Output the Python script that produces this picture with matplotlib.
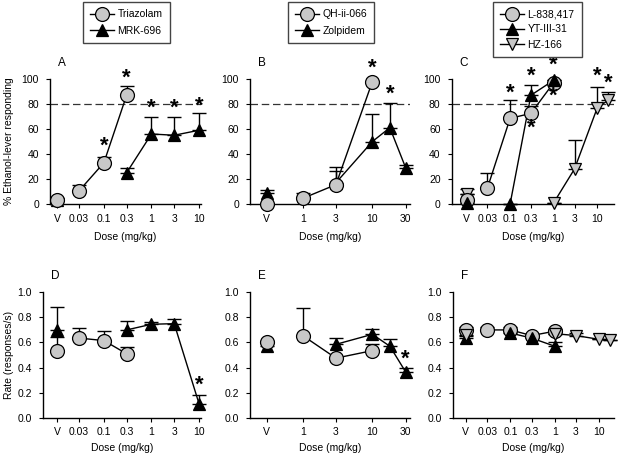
"""Ethanol-lever responding and response rate, panels A-F."""
import matplotlib
matplotlib.use('Agg')
import matplotlib.pyplot as plt
from matplotlib.lines import Line2D
import numpy as np

plt.rcParams.update({
    'font.family': ['Liberation Sans', 'DejaVu Sans'],
    'font.size': 7.5,
    'axes.linewidth': 1.0,
    'xtick.major.size': 3,
    'ytick.major.size': 3,
})

GRAY = '#c8c8c8'

# ---------------------------------------------------------------------------
# data  (dose 'V' = vehicle; err = upper SEM only)
# ---------------------------------------------------------------------------
# panel A / D
tri_dose = ['V', 0.03, 0.1, 0.3]
tri_pct = [3, 10.5, 33, 87]
tri_pct_err = [2, 5, 5, 7.5]
tri_rate = [0.53, 0.635, 0.615, 0.51]
tri_rate_err = [0.11, 0.08, 0.08, 0.055]

mrk_dose = ['V', 0.3, 1, 3, 10]
mrk_pct = [3, 25, 56, 55, 59]
mrk_pct_err = [2, 3.5, 14, 14.5, 14]
mrk_rate = [0.70, 0.70, 0.745, 0.75, 0.11]
mrk_rate_err = [0.18, 0.07, 0.015, 0.04, 0.07]

# panel B / E
qh_dose = ['V', 1, 3, 10]
qh_pct = [0, 4.5, 15.5, 98]
qh_pct_err = [0, 4, 11, 0]
qh_rate = [0.60, 0.655, 0.475, 0.535]
qh_rate_err = [0.01, 0.22, 0.0, 0.05]

zol_dose = ['V', 3, 10, 17.8, 30]
zol_pct = [8.5, 17, 50, 61, 29]
zol_pct_err = [3, 13, 22, 20, 2]
zol_rate = [0.57, 0.585, 0.665, 0.57, 0.365]
zol_rate_err = [0.03, 0.05, 0.04, 0.06, 0.03]

# panel C / F
l8_dose = ['V', 0.03, 0.1, 0.3, 1]
l8_pct = [3, 12.5, 68.5, 72.5, 97]
l8_pct_err = [5, 12, 15, 6, 0]
l8_rate = [0.70, 0.70, 0.70, 0.655, 0.69]
l8_rate_err = [0.025, 0.02, 0.02, 0.01, 0.015]

yt_dose = ['V', 0.1, 0.3, 1]
yt_pct = [1, 0, 87, 99]
yt_pct_err = [2, 0, 8, 0]
yt_rate = [0.635, 0.675, 0.635, 0.57]
yt_rate_err = [0.02, 0.02, 0.01, 0.035]

hz_dose = ['V', 1, 3, 10, 17.8]
hz_pct = [8, 1, 28, 77, 83]
hz_pct_err = [4, 0, 23, 17, 7]
hz_rate = [0.66, 0.67, 0.655, 0.625, 0.62]
hz_rate_err = [0.04, 0.0, 0.02, 0.0, 0.0]

# asterisks: (dose, y)
stars_A = [(0.1, 46), (0.3, 100.5), (1, 76.5), (3, 76.5), (10, 78.5)]
stars_B = [(10, 108.5), (17.8, 88)]
stars_C = [(0.1, 89), (0.3, 61), (1, 86.5), (0.3, 102.5), (1, 111),
           (10, 102), (17.8, 97)]
stars_D = [(10, 0.26)]
stars_E = [(30, 0.465)]

ticks_A = ['V', 0.03, 0.1, 0.3, 1, 3, 10]
ticks_B = ['V', 1, 3, 10, 30]
ticks_C = ['V', 0.03, 0.1, 0.3, 1, 3, 10]

W, H = 620, 459


def xpos(doses, vpos):
    return np.array([vpos if d == 'V' else np.log10(d) for d in doses])


def draw_series(ax, doses, vals, errs, vpos, marker, face, ms=9):
    x = xpos(doses, vpos)
    y = np.array(vals, float)
    e = np.array(errs, float)
    ax.errorbar(x, y, yerr=[np.zeros_like(e), e], fmt='none', ecolor='k',
                elinewidth=1.0, capsize=5, capthick=1.0, zorder=2, clip_on=False)
    # vehicle point is not joined to the dose-response line
    ax.plot(x[1:], y[1:], '-', color='k', lw=1.0, zorder=3, clip_on=False)
    ax.plot(x, y, ls='none', marker=marker, ms=ms, mfc=face, mec='k', mew=0.9,
            zorder=4, clip_on=False)


def setup(ax, px, ticks, vpos, top, label):
    left, right, x0px, x0val, ppd = px
    ax.set_xlim(x0val - (x0px - left) / ppd, x0val + (right - x0px) / ppd)
    ax.set_xticks(xpos(ticks, vpos))
    ax.set_xticklabels([str(t) for t in ticks])
    ax.spines['top'].set_visible(False)
    ax.spines['right'].set_visible(False)
    if top:
        ax.set_ylim(0, 100)
        ax.set_yticks([0, 20, 40, 60, 80, 100])
        ax.axhline(80, color='#333333', ls=(0, (6, 3)), lw=0.9, zorder=1)
        ax.set_xlabel('Dose (mg/kg)', labelpad=6)
    else:
        ax.set_ylim(0, 1.0)
        ax.set_yticks([0, 0.2, 0.4, 0.6, 0.8, 1.0])
        ax.set_yticklabels(['0.0', '0.2', '0.4', '0.6', '0.8', '1.0'])
        ax.set_xlabel('Dose (mg/kg)', labelpad=4)
    ax.tick_params(axis='x', direction='out', pad=4)
    ax.tick_params(axis='y', direction='out', pad=5)
    ax.text(0.05, 1.08, label, transform=ax.transAxes, fontsize=8.5,
            ha='left', va='bottom')


def stars(ax, pts, vpos):
    for d, y in pts:
        ax.text(xpos([d], vpos)[0], y, '*', ha='center', va='center',
                fontsize=16, fontweight='bold', zorder=5)


fig = plt.figure(figsize=(W / 100, H / 100), dpi=100)


def add_axes(left, right, top_px, bot_px):
    return fig.add_axes([left / W, 1 - bot_px / H, (right - left) / W,
                         (bot_px - top_px) / H])


# (left spine px, right end px, ref tick px, ref tick log value, px/decade)
pxA = (50, 201, 79, np.log10(0.03), 47.6)
pxD = (43.3, 201, 79, np.log10(0.03), 47.6)
pxB = (250, 410, 302.7, 0.0, 69.7)
pxC = (451.7, 614, 487.3, np.log10(0.03), 43.6)
pxF = (453.3, 614, 487.3, np.log10(0.03), 44.3)
vA, vB, vC, vF = -1.986, -0.516, -1.995, -2.01

axA = add_axes(pxA[0], pxA[1], 79, 204)
axB = add_axes(pxB[0], pxB[1], 79, 204)
axC = add_axes(pxC[0], pxC[1], 79, 204)
axD = add_axes(pxD[0], pxD[1], 292.3, 417.7)
axE = add_axes(pxB[0], pxB[1], 292.3, 417.7)
axF = add_axes(pxF[0], pxF[1], 292.3, 417.7)

# ---------------------------------------------------------------------------
# top row: % ethanol-lever responding
# ---------------------------------------------------------------------------
setup(axA, pxA, ticks_A, vA, True, 'A')
draw_series(axA, mrk_dose, mrk_pct, mrk_pct_err, vA, '^', 'k')
draw_series(axA, tri_dose, tri_pct, tri_pct_err, vA, 'o', GRAY, ms=10)
stars(axA, stars_A, vA)

setup(axB, pxB, ticks_B, vB, True, 'B')
draw_series(axB, zol_dose, zol_pct, zol_pct_err, vB, '^', 'k')
draw_series(axB, qh_dose, qh_pct, qh_pct_err, vB, 'o', GRAY, ms=10)
stars(axB, stars_B, vB)

setup(axC, pxC, ticks_C, vC, True, 'C')
draw_series(axC, hz_dose, hz_pct, hz_pct_err, vC, 'v', GRAY)
draw_series(axC, l8_dose, l8_pct, l8_pct_err, vC, 'o', GRAY, ms=10)
draw_series(axC, yt_dose, yt_pct, yt_pct_err, vC, '^', 'k')
stars(axC, stars_C, vC)

# ---------------------------------------------------------------------------
# bottom row: response rate
# ---------------------------------------------------------------------------
setup(axD, pxD, ticks_A, vA, False, 'D')
draw_series(axD, mrk_dose, mrk_rate, mrk_rate_err, vA, '^', 'k')
draw_series(axD, tri_dose, tri_rate, tri_rate_err, vA, 'o', GRAY, ms=10)
stars(axD, stars_D, vA)

setup(axE, pxB, ticks_B, vB, False, 'E')
draw_series(axE, zol_dose, zol_rate, zol_rate_err, vB, '^', 'k')
draw_series(axE, qh_dose, qh_rate, qh_rate_err, vB, 'o', GRAY, ms=10)
stars(axE, stars_E, vB)

setup(axF, pxF, ticks_C, vF, False, 'F')
draw_series(axF, l8_dose, l8_rate, l8_rate_err, vF, 'o', GRAY, ms=10)
draw_series(axF, yt_dose, yt_rate, yt_rate_err, vF, '^', 'k')
draw_series(axF, hz_dose, hz_rate, hz_rate_err, vF, 'v', GRAY)

fig.text(9 / W, 1 - 141 / H, '% Ethanol-lever responding', rotation=90,
         ha='center', va='center')
fig.text(9 / W, 1 - 355 / H, 'Rate (responses/s)', rotation=90,
         ha='center', va='center')

# ---------------------------------------------------------------------------
# legends
# ---------------------------------------------------------------------------
def handle(marker, face, ms=9):
    return Line2D([], [], color='k', lw=1.0, marker=marker, ms=ms,
                  mfc=face, mec='k', mew=0.9)


def legend(handles, labels, x_px, spacing):
    fig.legend(handles, labels, loc='upper left',
               bbox_to_anchor=(x_px / W, 1 - 2 / H), borderaxespad=0,
               frameon=True, fancybox=False, edgecolor='#444444',
               framealpha=1, handlelength=2.3, handletextpad=0.3,
               labelspacing=spacing, borderpad=0.7, fontsize=7.5)


legend([handle('o', GRAY, 10), handle('^', 'k')], ['Triazolam', 'MRK-696'],
       83, 0.65)
legend([handle('o', GRAY, 10), handle('^', 'k')], ['QH-ii-066', 'Zolpidem'],
       288, 0.65)
legend([handle('o', GRAY, 10), handle('^', 'k'), handle('v', GRAY)],
       ['L-838,417', 'YT-III-31', 'HZ-166'], 493, 0.5)

fig.savefig('out.png', dpi=100)
print('wrote out.png')
